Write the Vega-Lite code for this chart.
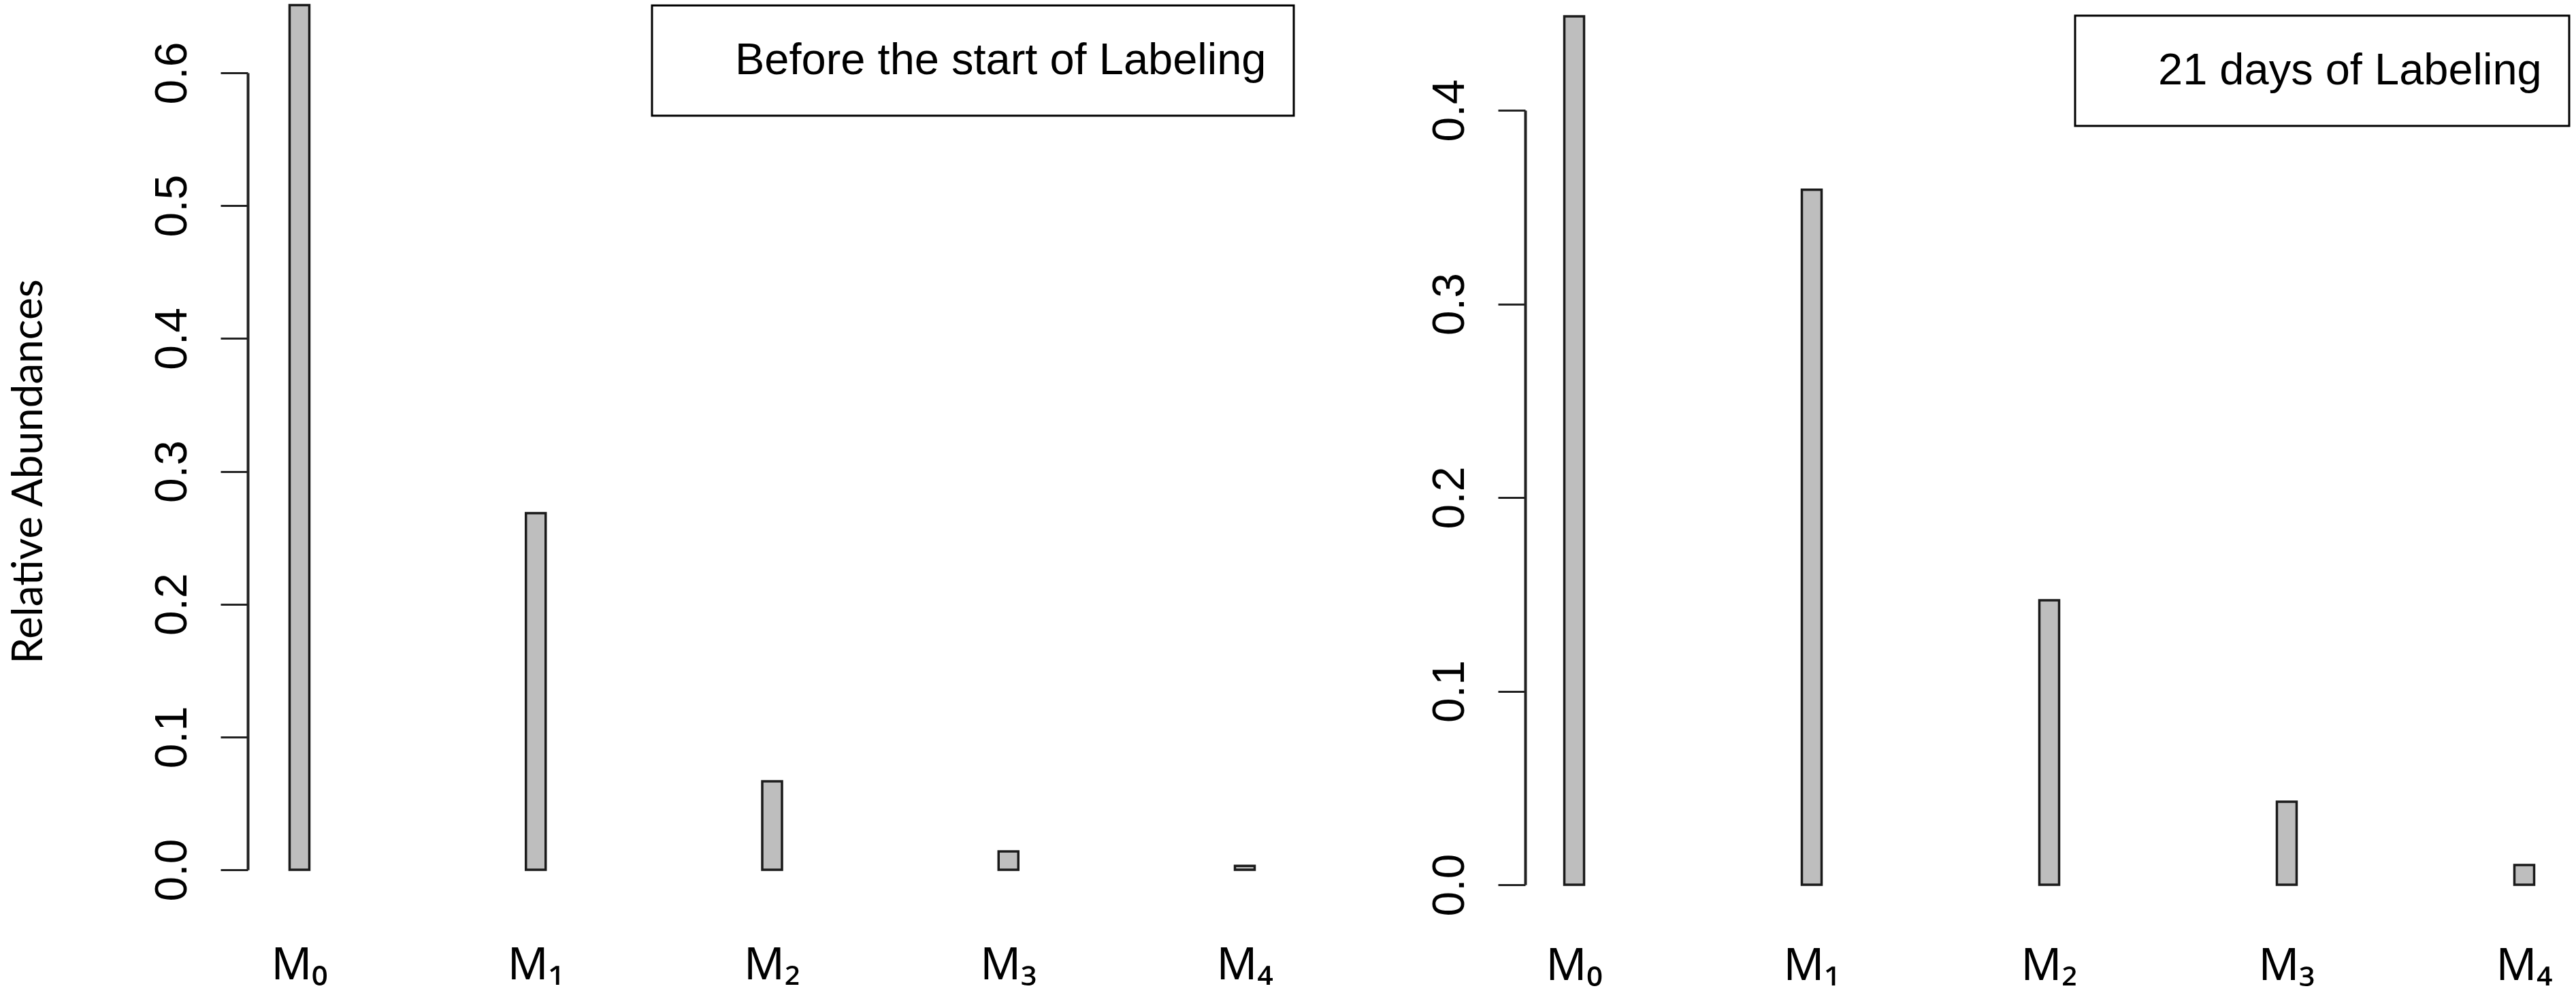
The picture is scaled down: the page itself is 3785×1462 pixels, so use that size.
{
  "$schema": "https://vega.github.io/schema/vega-lite/v6.json",
  "background": "white",
  "padding": {"left": 11, "top": 5, "right": 0, "bottom": 22},
  "config": {
    "view": {"stroke": null},
    "font": "Liberation Sans",
    "legend": {"strokeWidth": 3}
  },
  "bounds": "flush",
  "spacing": 336,
  "resolve": {"scale": {"color": "independent"}, "legend": {"color": "independent"}},
  "hconcat": [
    {
      "width": 1541,
      "height": 1171,
      "data": {
        "values": [
          {"ion": "M₀", "abundance": 0.651, "panel": "Before the start of Labeling"},
          {"ion": "M₁", "abundance": 0.2685, "panel": "Before the start of Labeling"},
          {"ion": "M₂", "abundance": 0.0666, "panel": "Before the start of Labeling"},
          {"ion": "M₃", "abundance": 0.0138, "panel": "Before the start of Labeling"},
          {"ion": "M₄", "abundance": 0.003, "panel": "Before the start of Labeling"}
        ]
      },
      "mark": {"type": "bar", "stroke": "#1a1a1a", "strokeWidth": 3.5},
      "encoding": {
        "x": {
          "field": "ion", "type": "nominal", "sort": null,
          "scale": {"paddingInner": 0.9165, "paddingOuter": 0.1771},
          "axis": {"title": null, "domain": false, "ticks": false, "tickSize": 0, "labelAngle": 0,
                   "labelFont": "Noto Sans", "labelFontSize": 66, "labelColor": "black",
                   "labelBaseline": "alphabetic", "labelPadding": 160, "labelDx": 12}
        },
        "y": {
          "field": "abundance", "type": "quantitative",
          "scale": {"domain": [0, 0.6], "nice": false, "zero": true},
          "axis": {"title": "Relative Abundances", "values": [0, 0.1, 0.2, 0.3, 0.4, 0.5, 0.6], "format": ".1f",
                   "grid": false, "domainColor": "#222", "domainWidth": 4, "tickColor": "#222", "tickWidth": 3,
                   "tickSize": 40, "labelAngle": -90, "labelAlign": "center", "labelBaseline": "alphabetic",
                   "labelPadding": 51, "labelFont": "Liberation Sans", "labelFontSize": 66, "labelColor": "black",
                   "labelFlush": false, "labelOverlap": false,
                   "titleFont": "Lato", "titleFontSize": 62, "titleFontWeight": "normal", "titleColor": "black",
                   "titlePadding": 146}
        },
        "color": {
          "field": "panel", "type": "nominal",
          "scale": {"range": ["#bebebe"]},
          "legend": {"title": null, "orient": "none", "legendX": 594, "legendY": -99,
                     "strokeColor": "black", "fillColor": "white", "padding": 40,
                     "symbolSize": 6724, "symbolOpacity": 0, "symbolStrokeWidth": 0, "labelOffset": 0,
                     "labelFont": "Liberation Sans", "labelFontSize": 65, "labelColor": "black", "labelLimit": 3000}
        }
      }
    },
    {
      "vconcat": [
        {
          "width": 1,
          "height": 55,
          "data": {"values": []},
          "mark": {"type": "point"},
          "encoding": {}
        },
        {
          "width": 1540,
          "height": 1138,
          "data": {
            "values": [
              {"ion": "M₀", "abundance": 0.4485, "panel": "21 days of Labeling"},
              {"ion": "M₁", "abundance": 0.359, "panel": "21 days of Labeling"},
              {"ion": "M₂", "abundance": 0.1469, "panel": "21 days of Labeling"},
              {"ion": "M₃", "abundance": 0.0429, "panel": "21 days of Labeling"},
              {"ion": "M₄", "abundance": 0.0102, "panel": "21 days of Labeling"}
            ]
          },
          "mark": {"type": "bar", "stroke": "#1a1a1a", "strokeWidth": 3.5},
          "encoding": {
            "x": {
              "field": "ion", "type": "nominal", "sort": null,
              "scale": {"paddingInner": 0.9169, "paddingOuter": 0.1648},
              "axis": {"title": null, "domain": false, "ticks": false, "tickSize": 0, "labelAngle": 0,
                       "labelFont": "Noto Sans", "labelFontSize": 66, "labelColor": "black",
                       "labelBaseline": "alphabetic", "labelPadding": 139}
            },
            "y": {
              "field": "abundance", "type": "quantitative",
              "scale": {"domain": [0, 0.4], "nice": false, "zero": true},
              "axis": {"title": null, "values": [0, 0.1, 0.2, 0.3, 0.4], "format": ".1f",
                       "grid": false, "domainColor": "#222", "domainWidth": 4, "tickColor": "#222", "tickWidth": 3,
                       "tickSize": 40, "labelAngle": -90, "labelAlign": "center", "labelBaseline": "alphabetic",
                       "labelPadding": 51, "labelFont": "Liberation Sans", "labelFontSize": 66, "labelColor": "black",
                       "labelFlush": false, "labelOverlap": false}
            },
            "color": {
              "field": "panel", "type": "nominal",
              "scale": {"range": ["#bebebe"]},
              "legend": {"title": null, "orient": "none", "legendX": 808, "legendY": -139,
                         "strokeColor": "black", "fillColor": "white", "padding": 40,
                         "symbolSize": 6724, "symbolOpacity": 0, "symbolStrokeWidth": 0, "labelOffset": 0,
                         "labelFont": "Liberation Sans", "labelFontSize": 65, "labelColor": "black", "labelLimit": 3000}
            }
          }
        }
      ],
      "spacing": 0,
      "bounds": "flush",
      "resolve": {"scale": {"color": "independent"}, "legend": {"color": "independent"}}
    }
  ]
}
